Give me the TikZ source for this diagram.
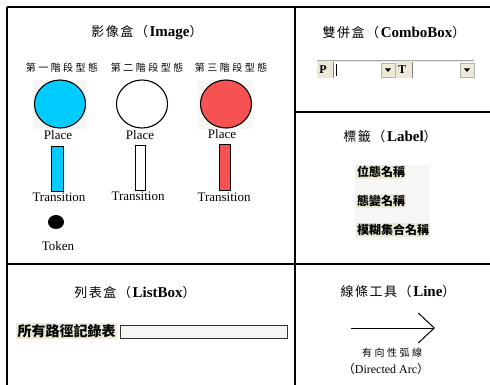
\documentclass[tikz,border=0pt]{standalone}
\usepackage{fontspec}
\setmainfont{Liberation Serif}
\newfontfamily\cjk{Noto Sans CJK TC}
\newfontfamily\cjkt[LetterSpace=12]{Noto Sans CJK TC}
\newfontfamily\cjks[LetterSpace=25]{Noto Sans CJK TC}
\usetikzlibrary{arrows.meta}
\definecolor{pblue}{RGB}{0,204,255}
\definecolor{pred}{RGB}{247,82,82}
\definecolor{winbg}{RGB}{236,233,216}
\definecolor{panelbg}{RGB}{246,246,244}
\newcommand{\ttlcjk}[1]{{\cjkt\fontsize{13}{15}\selectfont #1}}
\newcommand{\ttlpar}[1]{{\cjk\fontsize{13}{15}\selectfont #1}}
\tikzset{
  frame/.style={line width=1.4pt,black},
  title/.style={inner sep=0pt,font=\fontsize{15}{17}\selectfont},
  stagelab/.style={inner sep=0pt,font=\cjks\fontsize{10}{12}\selectfont},
  lab/.style={inner sep=0pt,font=\fontsize{13}{15}\selectfont},
  trans/.style={draw=black,line width=1pt},
  uilab/.style={inner sep=1pt,fill=winbg,font=\cjk\bfseries\fontsize{12}{14}\selectfont},
}
\begin{document}
\begin{tikzpicture}[x=1pt,y=-1pt]
\useasboundingbox (0,0) rectangle (490,385);
\fill[white] (0,0) rectangle (490,385);
% frame
\coordinate (tl) at (7,7); \coordinate (tr) at (490,7);
\coordinate (bl) at (7,385); \coordinate (mt) at (295,7); \coordinate (mb) at (295,385);
\coordinate (hl) at (7,264); \coordinate (hr) at (490,264);
\coordinate (rl) at (295,112); \coordinate (rr) at (490,112);
\draw[frame] (tl) -- (tr);
\draw[frame] (tl) -- (bl);
\draw[frame] (mt) -- (mb);
\draw[frame] (hl) -- (hr);
\draw[frame] (rl) -- (rr);
% Image panel
\node[title] (timg) at (147,33) {\ttlcjk{影像盒（}\textbf{Image}\ttlpar{）}};
\node[stagelab] (s1) at (62,68) {第一階段型態};
\node[stagelab] (s2) at (147,68) {第二階段型態};
\node[stagelab] (s3) at (231,68) {第三階段型態};
\fill[panelbg] (33,80) rectangle (86,129);
\fill[panelbg] (198,80) rectangle (252,129);
\draw[line width=1.1pt,fill=pblue] (60,104) ellipse (25.5pt and 24pt);
\draw[line width=1.1pt,fill=white] (142,104) ellipse (25.5pt and 24pt);
\draw[line width=1.1pt,fill=pred] (226,104) ellipse (25.5pt and 24pt);
\node[lab] (p1) at (58,135) {Place};
\node[lab] (p2) at (140,135) {Place};
\node[lab] (p3) at (222,134) {Place};
\draw[trans,fill=pblue] (51.5,147) rectangle (63,191);
\draw[trans,fill=white] (135.5,146) rectangle (145,190);
\draw[trans,fill=pred] (219.5,145) rectangle (230,190);
\node[lab] (t1) at (59,197) {Transition};
\node[lab] (t2) at (138,196) {Transition};
\node[lab] (t3) at (224,197) {Transition};
\fill[black] (56,222) ellipse (8pt and 7pt);
\node[lab] (tok) at (58,246) {Token};
% ComboBox panel
\node[title] (tcombo) at (394,33) {\ttlcjk{雙併盒（}\textbf{ComboBox}\ttlpar{）}};
\fill[winbg] (317,60) rectangle (474,78);
\draw[gray!70,line width=0.6pt] (317,60.3) -- (474,60.3);
\node[inner sep=0pt,font=\bfseries\fontsize{12}{14}\selectfont] (P) at (323,70) {P};
\fill[white] (333,62) rectangle (395,78);
\draw[gray,line width=0.6pt] (333.5,62) -- (333.5,78);
\draw[black,line width=0.6pt] (336,64) -- (336,76);
\fill[winbg] (381,63) rectangle (395,77);
\draw[gray!60,line width=0.4pt] (381,63) rectangle (395,77);
\fill[black] (385,68.5) -- (391,68.5) -- (388,72) -- cycle;
\node[inner sep=0pt,font=\bfseries\fontsize{12}{14}\selectfont] (T) at (402,70) {T};
\fill[white] (412,62) rectangle (474,78);
\draw[gray,line width=0.6pt] (412.5,62) -- (412.5,78);
\fill[winbg] (460,63) rectangle (474,77);
\draw[gray!60,line width=0.4pt] (460,63) rectangle (474,77);
\fill[black] (464,68.5) -- (470,68.5) -- (467,72) -- cycle;
% Label panel
\node[title] (tlabel) at (390,137) {\ttlcjk{標籤（}\textbf{Label}\ttlpar{）}};
\fill[panelbg] (355,165) rectangle (430,240);
\node[uilab,anchor=west] (l1) at (356,172) {位態名稱};
\node[uilab,anchor=west] (l2) at (356,201) {態變名稱};
\node[uilab,anchor=west] (l3) at (356,230) {模糊集合名稱};
% ListBox panel
\node[title] (tlist) at (135,293) {\ttlcjk{列表盒（}\textbf{ListBox}\ttlpar{）}};
\node[uilab,anchor=west,inner sep=1.5pt,font=\cjk\bfseries\fontsize{14}{16}\selectfont] (lb) at (16,331) {所有路徑記錄表};
\draw[black!80,line width=0.7pt,fill=panelbg] (120,325) rectangle (287,338);
% Line panel
\node[title] (tline) at (398,292) {\ttlcjk{線條工具（}\textbf{Line}\ttlpar{）}};
\coordinate (a0) at (351,328);
\coordinate (a1) at (435,328);
\draw[line width=1pt,-{Straight Barb[length=16pt,width=30pt,line width=1pt]}] (a0) -- (a1);
\node[inner sep=0pt,font=\cjks\fontsize{10}{12}\selectfont] (al1) at (392,353) {有向性弧線};
\node[inner sep=0pt,font=\fontsize{12}{14}\selectfont] (al2) at (386,369) {{\cjk （}Directed Arc{\cjk ）}};
\end{tikzpicture}
\end{document}
